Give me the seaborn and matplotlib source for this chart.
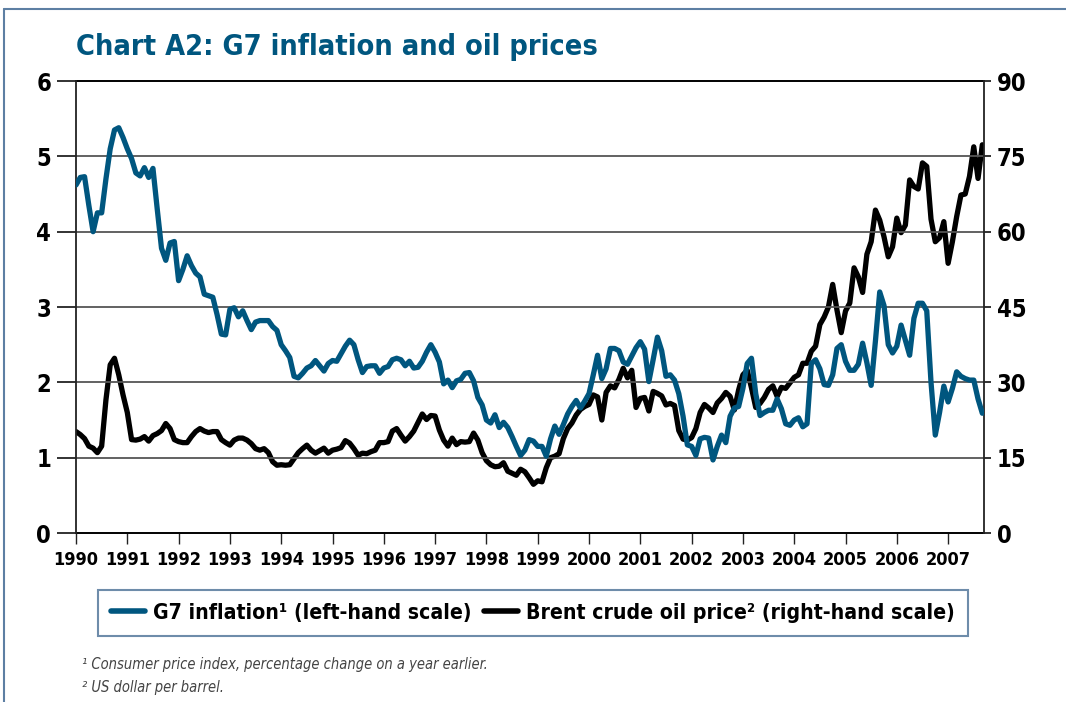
import matplotlib
matplotlib.use("Agg")
import matplotlib.pyplot as plt
from matplotlib.lines import Line2D
import seaborn as sns
import pandas as pd
import numpy as np

# monthly readings, Jan 1990 - Sep 2007
g7_inflation = [
    4.62, 4.72, 4.73, 4.35, 4.00, 4.25, 4.25, 4.70, 5.10, 5.35, 5.38, 5.25,
    5.10, 4.97, 4.78, 4.74, 4.85, 4.72, 4.84, 4.30, 3.78, 3.62, 3.85, 3.87,
    3.35, 3.50, 3.68, 3.55, 3.45, 3.40, 3.17, 3.15, 3.13, 2.90, 2.64, 2.63,
    2.97, 2.99, 2.87, 2.95, 2.82, 2.70, 2.80, 2.82, 2.82, 2.82, 2.74, 2.69,
    2.50, 2.42, 2.33, 2.08, 2.06, 2.12, 2.19, 2.22, 2.29, 2.22, 2.15, 2.25,
    2.29, 2.28, 2.38, 2.48, 2.56, 2.50, 2.30, 2.13, 2.21, 2.22, 2.22, 2.12,
    2.19, 2.21, 2.30, 2.32, 2.30, 2.22, 2.28, 2.19, 2.20, 2.28, 2.40, 2.50,
    2.40, 2.27, 1.98, 2.03, 1.93, 2.02, 2.04, 2.12, 2.13, 2.02, 1.80, 1.70,
    1.50, 1.46, 1.57, 1.40, 1.47, 1.40, 1.28, 1.15, 1.03, 1.10, 1.24, 1.22,
    1.15, 1.15, 1.02, 1.25, 1.42, 1.31, 1.44, 1.58, 1.68, 1.76, 1.66, 1.75,
    1.85, 2.10, 2.36, 2.05, 2.18, 2.45, 2.45, 2.42, 2.27, 2.24, 2.35, 2.46,
    2.54, 2.44, 2.01, 2.30, 2.60, 2.42, 2.08, 2.10, 2.03, 1.85, 1.55, 1.17,
    1.15, 1.03, 1.25, 1.27, 1.26, 0.97, 1.15, 1.30, 1.20, 1.55, 1.66, 1.68,
    1.92, 2.25, 2.32, 1.85, 1.56, 1.60, 1.63, 1.63, 1.78, 1.65, 1.45, 1.43,
    1.50, 1.53, 1.41, 1.45, 2.25, 2.30, 2.18, 1.97, 1.96, 2.10, 2.45, 2.50,
    2.28, 2.16, 2.16, 2.24, 2.52, 2.26, 1.96, 2.55, 3.20, 3.02, 2.50, 2.39,
    2.48, 2.76, 2.56, 2.36, 2.85, 3.05, 3.05, 2.95, 2.00, 1.30, 1.60, 1.95,
    1.74, 1.92, 2.14, 2.08, 2.05, 2.03, 2.03, 1.78, 1.59,
]
brent_price = [
    20.2, 19.6, 18.8, 17.3, 16.9, 16.0, 17.3, 26.5, 33.5, 34.8, 31.5, 27.5,
    24.0, 18.6, 18.5, 18.7, 19.2, 18.3, 19.4, 19.8, 20.4, 21.8, 20.8, 18.6,
    18.2, 18.0, 18.0, 19.2, 20.2, 20.8, 20.3, 20.0, 20.2, 20.2, 18.6, 18.0,
    17.5, 18.5, 18.9, 18.9, 18.5, 17.8, 16.8, 16.5, 16.8, 16.0, 14.2, 13.5,
    13.6, 13.5, 13.6, 14.8, 16.0, 16.8, 17.5, 16.5, 15.9, 16.4, 16.9, 15.9,
    16.5, 16.7, 17.0, 18.4, 17.9, 16.8, 15.5, 15.9, 15.8, 16.2, 16.5, 18.0,
    18.0, 18.2, 20.3, 20.8, 19.5, 18.3, 19.2, 20.3, 22.0, 23.7, 22.6, 23.4,
    23.3, 20.5, 18.5, 17.3, 18.9, 17.6, 18.2, 18.1, 18.2, 19.9, 18.5, 16.0,
    14.4, 13.6, 13.2, 13.3, 14.0, 12.3, 11.9, 11.5, 12.7, 12.2, 11.0, 9.7,
    10.4, 10.2, 13.0, 15.0, 15.3, 15.8, 18.8, 20.8, 21.9, 23.5, 24.6, 25.2,
    25.6, 27.5, 27.1, 22.5, 28.0, 29.3, 28.9, 30.6, 32.8, 30.9, 32.4, 25.0,
    26.8, 27.0, 24.3, 28.2, 27.8, 27.3, 25.5, 25.8, 25.4, 20.4, 18.7, 18.5,
    19.0, 20.8, 24.0, 25.6, 24.9, 24.0, 25.9, 26.8, 28.0, 27.2, 24.5, 28.5,
    31.5, 32.4, 28.9, 25.0, 25.8, 27.0, 28.6, 29.3, 27.2, 29.0, 28.8, 29.9,
    31.0, 31.5, 33.8, 33.8, 36.2, 37.2, 41.5, 43.0, 45.0, 49.5, 44.4, 39.9,
    44.2, 45.8, 52.8, 51.0, 47.9, 55.5, 58.0, 64.3, 62.3, 59.0, 55.0, 57.0,
    62.7, 59.8, 61.3, 70.3, 69.0, 68.5, 73.7, 73.0, 62.5, 58.0, 58.8, 62.0,
    53.7, 58.0, 63.0, 67.3, 67.5, 71.0, 76.9, 70.6, 77.3,
]
years = list(range(1990, 2008))
left_ticks = [0, 1, 2, 3, 4, 5, 6]
right_ticks = [0, 15, 30, 45, 60, 75, 90]

title = "Chart A2: G7 inflation and oil prices"
label_g7 = "G7 inflation\u00b9 (left-hand scale)"
label_oil = "Brent crude oil price\u00b2 (right-hand scale)"
notes = ["\u00b9 Consumer price index, percentage change on a year earlier.",
         "\u00b2 US dollar per barrel."]

BLUE = "#00567f"
FAMILY = ["DejaVu Sans"]

df = pd.DataFrame({
    "t": 1990 + np.arange(len(g7_inflation)) / 12,
    "g7": g7_inflation,
    "oil": brent_price,
})

sns.set_style("white")
plt.rcParams["font.family"] = FAMILY
plt.rcParams["font.weight"] = "bold"
plt.rcParams["font.stretch"] = "condensed"

fig = plt.figure(figsize=(10.66, 7.02), dpi=100)
ax = fig.add_axes([0.0713, 0.2407, 0.8518, 0.6439])
ax2 = ax.twinx()

for a in (ax, ax2):
    a.set_facecolor("none")
    for s in a.spines.values():
        s.set_visible(False)

# grid lines at the tick levels
for v in left_ticks:
    ax.axhline(v, color="#000000" if v in (0, 6) else "#555555",
               lw=1.4 if v in (0, 6) else 1.3, zorder=1, clip_on=False)

sns.lineplot(data=df, x="t", y="oil", ax=ax2, color="black", lw=3.8,
             legend=False, zorder=3)
sns.lineplot(data=df, x="t", y="g7", ax=ax, color=BLUE, lw=3.8,
             legend=False, zorder=3)
ax.set_zorder(ax2.get_zorder() + 1)

for side in ("left", "right"):
    ax.spines[side].set_visible(True)
    ax.spines[side].set_color("#222222")
    ax.spines[side].set_linewidth(1.3)

ax.set_xlim(1990, 1990 + 212.4 / 12)
ax.set_ylim(0, 6)
ax2.set_ylim(0, 90)
ax.set_xticks(years)
ax.set_xticklabels([str(y) for y in years])
ax.set_yticks(left_ticks)
ax2.set_yticks(right_ticks)
ax.set_xlabel("")
ax.set_ylabel("")
ax2.set_ylabel("")

ax.tick_params(axis="y", length=14, width=1.3, color="#222222", pad=4,
               labelsize=17, labelcolor="black", left=True)
ax2.tick_params(axis="y", length=5, width=1.3, color="#222222", pad=4,
                labelsize=17, labelcolor="black", right=True)
ax.tick_params(axis="x", length=8, width=1.0, color="#222222", pad=5,
               labelsize=13, labelcolor="black", bottom=True)
for lab in ax.get_xticklabels() + ax.get_yticklabels() + ax2.get_yticklabels():
    lab.set_fontweight("bold")

fig.text(0.0713, 0.933, title, color=BLUE, fontsize=20.7, fontweight="bold",
         ha="left", va="center")

h1 = Line2D([], [], color=BLUE, lw=4)
h2 = Line2D([], [], color="black", lw=4)
leg = fig.legend([h1, h2], [label_g7, label_oil], loc="center",
                 bbox_to_anchor=(0.5, 0.127), ncol=2,
                 frameon=True, fancybox=False, handlelength=1.6,
                 handletextpad=0.4, columnspacing=0.6, borderpad=0.6,
                 borderaxespad=0, labelcolor="black",
                 prop={"weight": "bold", "family": FAMILY, "size": 15.2})
leg.get_frame().set_edgecolor("#4a6f95")
leg.get_frame().set_linewidth(1.5)

for i, n in enumerate(notes):
    fig.text(0.077, 0.053 - i * 0.033, n, fontsize=10.5, style="italic",
             fontweight="normal", color="#444444", ha="left", va="center")

# page border
fig.add_artist(Line2D([0.004, 0.004], [0, 0.987], transform=fig.transFigure,
                      color="#5d7fa3", lw=1.5))
fig.add_artist(Line2D([0.004, 1.0], [0.987, 0.987], transform=fig.transFigure,
                      color="#5d7fa3", lw=1.5))

fig.savefig("out.png", dpi=100)
